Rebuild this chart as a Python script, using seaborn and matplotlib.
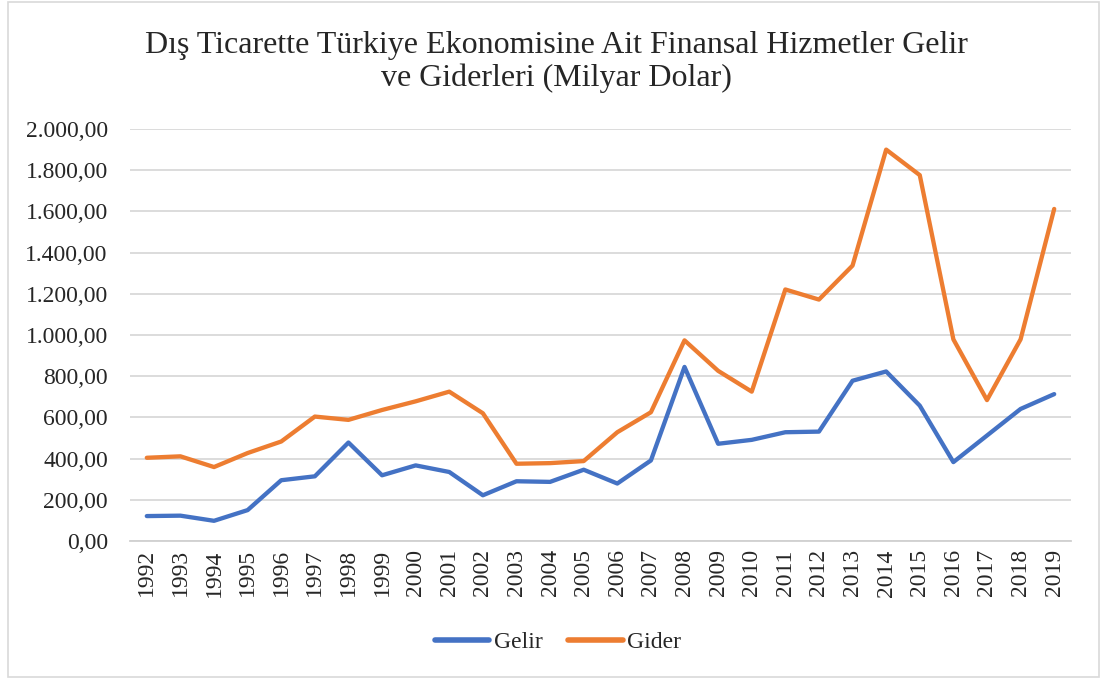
import pandas as pd
import matplotlib.pyplot as plt
import matplotlib.ticker as mticker
from matplotlib.patches import Rectangle
import seaborn as sns

years = list(range(1992, 2020))
gelir = [121, 123, 98, 150, 295, 314, 478, 319, 367, 335,
         222, 290, 287, 346, 279, 391, 845, 472, 491, 528,
         531, 778, 823, 657, 383, 512, 641, 713]
gider = [404, 411, 359, 427, 483, 604, 588, 636, 678, 725,
         620, 375, 378, 388, 528, 625, 974, 826, 725, 1221,
         1172, 1337, 1900, 1776, 979, 684, 979, 1612]
series_names = ['Gelir', 'Gider']
y_ticks = list(range(0, 2001, 200))

df = pd.DataFrame({'Yil': years * 2,
                   'Deger': gelir + gider,
                   'Seri': [series_names[0]] * len(years) + [series_names[1]] * len(years)})
df['Pos'] = df['Yil'] - years[0]

sns.set_style('white')
plt.rcParams['font.family'] = ['Liberation Serif', 'DejaVu Serif']

fig = plt.figure(figsize=(11.01, 6.82), dpi=100)
ax = fig.add_axes([130 / 1101, 1 - 541 / 682, 941 / 1101, 412 / 682])

sns.lineplot(data=df, x='Pos', y='Deger', hue='Seri', ax=ax,
             palette={'Gelir': '#4472C4', 'Gider': '#ED7D31'},
             linewidth=3.1, legend=False, solid_capstyle='round', solid_joinstyle='round')

ax.set_xlim(-0.5, len(years) - 0.5)
ax.set_ylim(0, 2000)
ax.set_xticks(range(len(years)))
ax.set_xticklabels([str(y) for y in years], rotation=90, fontsize=17)
ax.set_yticks(y_ticks)
ax.yaxis.set_major_formatter(mticker.FuncFormatter(
    lambda v, p: f'{v:,.2f}'.replace(',', 'X').replace('.', ',').replace('X', '.')))
ax.tick_params(axis='y', labelsize=17, length=0, pad=16)
ax.tick_params(axis='x', length=0, pad=6)
ax.grid(axis='y', color='#D9D9D9', linewidth=1.3)
ax.set_axisbelow(True)
for side in ['top', 'right', 'left']:
    ax.spines[side].set_visible(False)
ax.spines['bottom'].set_color('#D0D0D0')
ax.spines['bottom'].set_linewidth(1.3)
ax.set_xlabel('')
ax.set_ylabel('')

fig.text(556 / 1101, 1 - 62 / 682, 'Dış Ticarette Türkiye Ekonomisine Ait Finansal Hizmetler Gelir\nve Giderleri (Milyar Dolar)',
         ha='center', va='center', fontsize=23, linespacing=1.13)

# legend drawn with line handles
handles = [plt.Line2D([], [], color='#4472C4', linewidth=4, solid_capstyle='round'),
           plt.Line2D([], [], color='#ED7D31', linewidth=4, solid_capstyle='round')]
fig.legend(handles, series_names, loc='center', bbox_to_anchor=(558 / 1101, 1 - 642 / 682),
           ncol=2, frameon=False, fontsize=17, handlelength=2.3, handletextpad=0.2, columnspacing=1.1)

fig.patches.append(Rectangle((8 / 1101, 5 / 682), 1091 / 1101, 675 / 682, transform=fig.transFigure,
                             fill=False, edgecolor='#D9D9D9', linewidth=1.2))

fig.savefig('out.png', dpi=100)
